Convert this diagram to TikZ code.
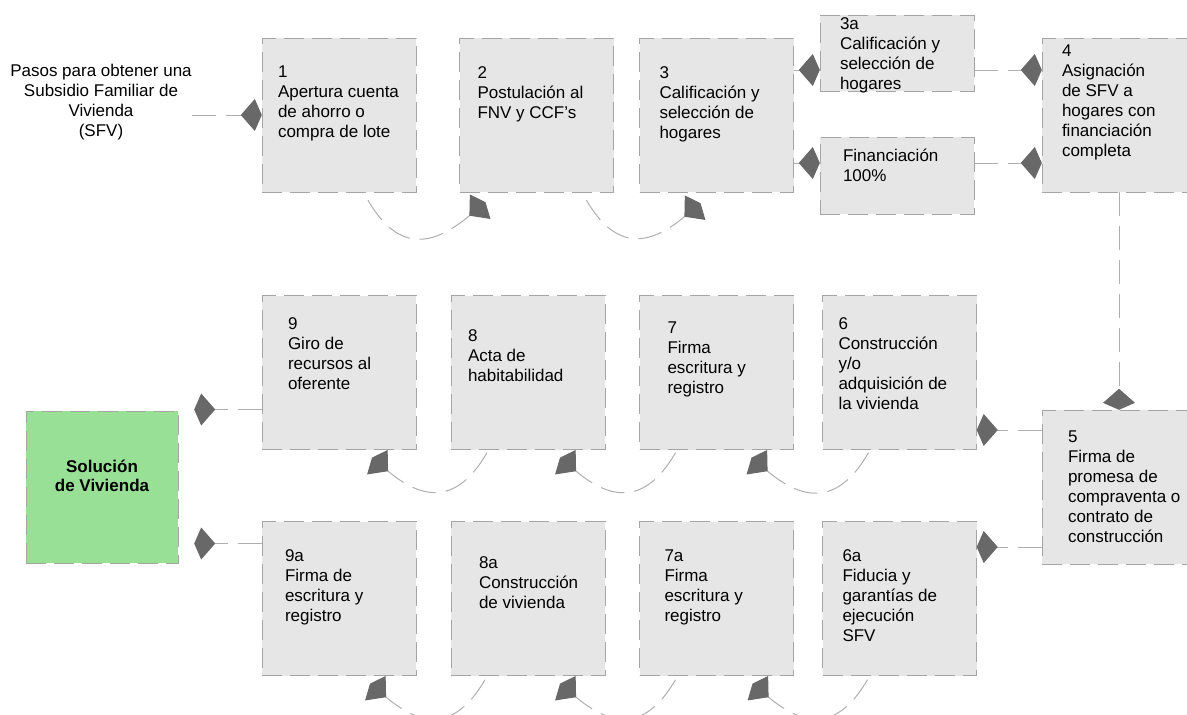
\documentclass[tikz,border=0pt]{standalone}
\usepackage{fontspec}
\setmainfont{Liberation Sans}
\usetikzlibrary{arrows.meta,positioning,calc}
\definecolor{boxgray}{RGB}{230,230,230}
\definecolor{edgegray}{RGB}{165,165,165}
\definecolor{linegray}{RGB}{175,175,175}
\definecolor{tipgray}{RGB}{104,104,104}
\definecolor{solgreen}{RGB}{152,224,150}
\tikzset{
    paso/.style={draw=edgegray,fill=boxgray,dash pattern=on 20pt off 8pt,minimum width=154pt,minimum height=154pt,inner sep=0pt},
    pasobajo/.style={paso,minimum height=77pt},
    sol/.style={paso,fill=solgreen,minimum width=152pt,minimum height=152pt},
    txt/.style={anchor=north west,align=left,inner sep=0pt,font=\fontsize{17}{20}\selectfont},
    lbl/.style n args={3}{label={[txt,xshift=#1pt,yshift=-#2pt]north west:{#3}}},
    intro/.style={align=center,inner sep=0pt,font=\fontsize{17}{20}\selectfont},
    soltxt/.style={anchor=center,align=center,inner sep=0pt,yshift=-65pt,font=\bfseries\fontsize{17}{19}\selectfont},
    flow/.style={draw=linegray,line width=1pt,dash pattern=on 24pt off 10pt,-{Kite[length=21pt,width=32pt,inset=14pt,color=tipgray,fill=tipgray]}},
    curva/.style={flow,looseness=1.4},
}

\begin{document}
\begin{tikzpicture}[x=1pt,y=1pt]
    \clip (0,0) rectangle (1187,-715);
    % fila 1
    \node[intro] (pasos) at (101,-102) {Pasos para obtener una\\Subsidio Familiar de\\Vivienda\\(SFV)};
    \node[paso,lbl={16}{28}{1\\Apertura cuenta\\de ahorro o\\compra de lote}] (b1) at (339,-115) {};
    \node[paso,lbl={18}{29}{2\\Postulación al\\FNV y CCF’s}] (b2) at (536.5,-115) {};
    \node[paso,lbl={20}{29}{3\\Calificación y\\selección de\\hogares}] (b3) at (716.5,-115) {};
    \node[pasobajo,minimum height=76pt,lbl={20}{3}{3a\\Calificación y\\selección de\\hogares}] (b3a) at (897,-53) {};
    \node[pasobajo,lbl={23}{12}{Financiación\\100\%}] (bfin) at (897,-175.5) {};
    \node[paso,lbl={20}{7}{4\\Asignación\\de SFV a\\hogares con\\financiación\\completa}] (b4) at (1119,-115) {};
    % fila 2
    \node[paso,lbl={26}{21}{5\\Firma de\\promesa de\\compraventa o\\contrato de\\construcción}] (b5) at (1119,-487) {};
    \node[paso,lbl={16}{22}{6\\Construcción\\y/o\\adquisición de\\la vivienda}] (b6) at (899.5,-372.5) {};
    \node[paso,lbl={28}{26}{7\\Firma\\escritura y\\registro}] (b7) at (716.5,-372.5) {};
    \node[paso,lbl={17}{34}{8\\Acta de\\habitabilidad}] (b8) at (528,-372.5) {};
    \node[paso,lbl={26}{22}{9\\Giro de\\recursos al\\oferente}] (b9) at (339,-372.5) {};
    % fila 3
    \node[paso,lbl={20}{28}{6a\\Fiducia y\\garantías de\\ejecución\\SFV}] (b6a) at (899.5,-598.5) {};
    \node[paso,lbl={25}{28}{7a\\Firma\\escritura y\\registro}] (b7a) at (716.5,-598.5) {};
    \node[paso,lbl={28}{35}{8a\\Construcción\\de vivienda}] (b8a) at (528,-598.5) {};
    \node[paso,lbl={23}{28}{9a\\Firma de\\escritura y\\registro}] (b9a) at (339,-598.5) {};
    \node[sol,label={[soltxt]above:{Solución\\de Vivienda}}] (sol) at (102,-487) {};

    \draw[flow] (pasos.east |- b1.west) -- (b1.west);
    \draw[curva] ([xshift=29pt,yshift=-8pt]b1.south) to[out=-60,in=-140] ([xshift=-51pt,yshift=-10pt]b2.south);
    \draw[curva] ([xshift=50pt,yshift=-8pt]b2.south) to[out=-60,in=-140] ([xshift=-16pt,yshift=-11pt]b3.south);
    \draw[flow] ([yshift=45pt]b3.east) -- ([yshift=45pt]b3.east -| b3a.west);
    \draw[flow] ([yshift=-48pt]b3.east) -- ([yshift=-48pt]b3.east -| bfin.west);
    \draw[flow] ([yshift=45pt]b3.east -| b3a.east) -- ([yshift=45pt]b3.east -| b4.west);
    \draw[flow] ([yshift=-48pt]b3.east -| bfin.east) -- ([yshift=-48pt]b3.east -| b4.west);
    \draw[flow] (b4.south) -- (b5.north);
    \draw[flow] ([yshift=57pt]b5.west) -- ([yshift=57pt]b5.west -| b6.east);
    \draw[flow] ([yshift=-60pt]b5.west) -- ([yshift=-60pt]b5.west -| b6a.east);
    % arcos fila 2
    \draw[curva] ([xshift=-31pt,yshift=-3pt]b6.south) to[out=-120,in=-40] ([xshift=35pt,yshift=-8pt]b7.south);
    \draw[curva] ([xshift=-41pt,yshift=-3pt]b7.south) to[out=-120,in=-40] ([xshift=32pt,yshift=-8pt]b8.south);
    \draw[curva] ([xshift=-41pt,yshift=-3pt]b8.south) to[out=-120,in=-40] ([xshift=33pt,yshift=-8pt]b9.south);
    % arcos fila 3
    \draw[curva] ([xshift=-32pt,yshift=-4pt]b6a.south) to[out=-120,in=-40] ([xshift=36pt,yshift=-8pt]b7a.south);
    \draw[curva] ([xshift=-41pt,yshift=-4pt]b7a.south) to[out=-120,in=-40] ([xshift=32pt,yshift=-8pt]b8a.south);
    \draw[curva] ([xshift=-43pt,yshift=-4pt]b8a.south) to[out=-120,in=-40] ([xshift=31pt,yshift=-8pt]b9a.south);
    \draw[flow,shorten >=16pt] ([yshift=-37pt]b9.west) -- ([yshift=-37pt]b9.west -| sol.east);
    \draw[flow,shorten >=16pt] ([yshift=55pt]b9a.west) -- ([yshift=55pt]b9a.west -| sol.east);
\end{tikzpicture}
\end{document}
